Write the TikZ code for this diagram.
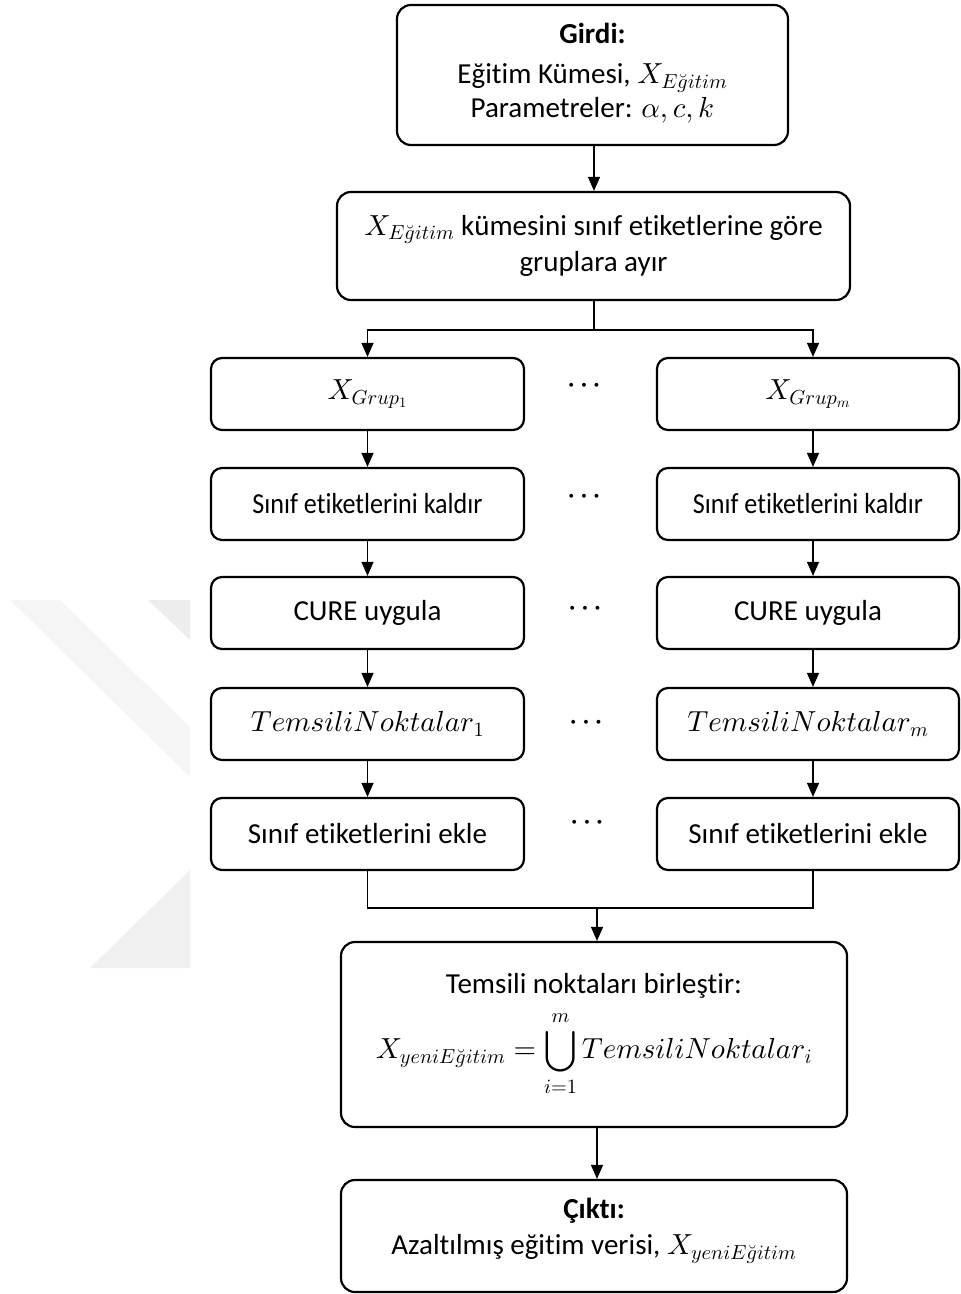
\documentclass[tikz,border=0pt]{standalone}
\usepackage{fontspec}
\setmainfont{Carlito}[Ligatures=NoCommon]
\DeclareFontShape{OML}{cmm}{m}{it}{<-> cmmi10}{\skewchar\font'177}
\DeclareFontShape{OMS}{cmsy}{m}{n}{<-> cmsy10}{\skewchar\font'60}
\DeclareFontShape{OMX}{cmex}{m}{n}{<-> cmex10}{}
\DeclareFontShape{OT1}{cmr}{m}{n}{<-> cmr10}{}
\usetikzlibrary{arrows.meta}
\newcommand{\Mx}[1]{$#1$}
\newcommand{\Eg}{E\breve{g}itim}
\begin{document}
\begin{tikzpicture}[x=1pt,y=-1pt,
  box/.style={draw, line width=2.2pt, rounded corners=14pt, align=center, inner sep=0pt,
    font=\fontsize{29}{36}\selectfont},
  colbox/.style={box, minimum height=72pt, rounded corners=11pt},
  lbox/.style={colbox, minimum width=313pt},
  rbox/.style={colbox, minimum width=302pt},
  arr/.style={line width=1.2pt, -{Triangle[width=12pt,length=14pt]}},
  ln/.style={line width=1.2pt},
  dots/.style={inner sep=0pt, font=\fontsize{36}{40}\selectfont\boldmath}]
\useasboundingbox (0,0) rectangle (961,1294);
% watermark
\fill[black!4] (10,600) -- (60,600) -- (190,727) -- (190,777) -- cycle;
\fill[black!7] (148,600) -- (190,600) -- (190,640) -- cycle;
\fill[black!6] (90,968) -- (190,968) -- (190,870) -- cycle;
% boxes
\node[box, minimum width=391pt, minimum height=140pt, text depth=9pt] (girdi) at (592.5,75)
  {\textbf{Girdi:}\\[4pt] Eğitim Kümesi, \Mx{X_{\Eg}}\\[-2pt] Parametreler: \Mx{\alpha, c, k}};
\node[box, minimum width=513pt, minimum height=108pt] (split) at (593.5,246)
  {\Mx{X_{\Eg}} kümesini sınıf etiketlerine göre\\ gruplara ayır};
\node[lbox] (L1) at (367.5,394) {\Mx{X_{Grup_1}}};
\node[lbox] (L2) at (367.5,504) {\scalebox{0.9}[1]{Sınıf etiketlerini kaldır}};
\node[lbox] (L3) at (367.5,613) {CURE uygula};
\node[lbox] (L4) at (367.5,724) {\Mx{TemsiliNoktalar_1}};
\node[lbox] (L5) at (367.5,834) {Sınıf etiketlerini ekle};
\node[rbox] (R1) at (808,394) {\Mx{X_{Grup_m}}};
\node[rbox] (R2) at (808,504) {\scalebox{0.9}[1]{Sınıf etiketlerini kaldır}};
\node[rbox] (R3) at (808,613) {CURE uygula};
\node[rbox] (R4) at (808,724) {\Mx{TemsiliNoktalar_m}};
\node[rbox] (R5) at (808,834) {Sınıf etiketlerini ekle};
\node[dots] (d1) at (584,386) {\Mx{\cdots}};
\node[dots] (d2) at (584,497) {\Mx{\cdots}};
\node[dots] (d3) at (585,609) {\Mx{\cdots}};
\node[dots] (d4) at (586,723) {\Mx{\cdots}};
\node[dots] (d5) at (587,823) {\Mx{\cdots}};
\node[box, minimum width=506pt, minimum height=185pt] (merge) at (594,1034.5)
  {Temsili noktaları birleştir:\\[12pt] \Mx{\displaystyle X_{yeni\Eg} = \bigcup_{i=1}^{m} TemsiliNoktalar_i}};
\node[box, minimum width=506pt, minimum height=112pt, text depth=19pt] (out) at (594,1236)
  {\textbf{Çıktı:}\\ Azaltılmış eğitim verisi, \Mx{X_{yeni\Eg}}};
% connectors
\coordinate (j1) at (594,330);
\coordinate (j2) at (597,908);
\draw[arr] (girdi.south -| j1) -- (split.north -| j1);
\draw[ln] (split.south -| j1) -- (j1);
\draw[arr] (j1) -| (L1.north);
\draw[arr] (j1) -| ([xshift=5pt]R1.north);
\foreach \a/\b in {1/2,2/3,3/4,4/5}{
  \draw[arr] (L\a.south) -- (L\b.north);
  \draw[arr] ([xshift=5pt]R\a.south) -- ([xshift=5pt]R\b.north);
}
\draw[ln] (L5.south) |- (j2) -| ([xshift=5pt]R5.south);
\draw[arr] (j2) -- (merge.north -| j2);
\draw[arr] (merge.south -| j2) -- (out.north -| j2);
\end{tikzpicture}
\end{document}
